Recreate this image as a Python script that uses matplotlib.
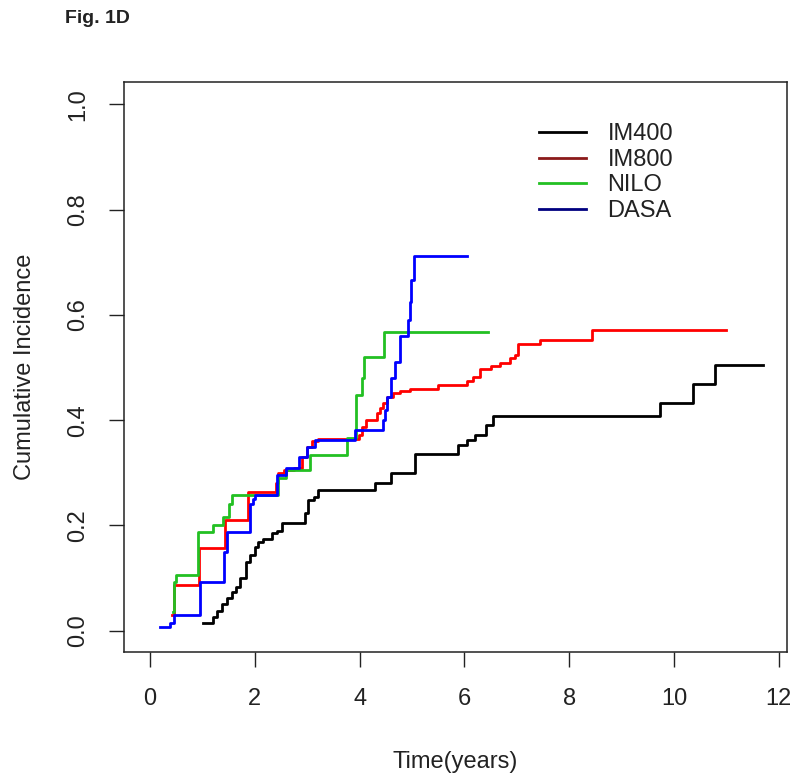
import matplotlib
matplotlib.use('Agg')
import matplotlib.pyplot as plt
from matplotlib.lines import Line2D

plt.rcParams['font.family'] = ['Liberation Sans', 'DejaVu Sans']

# Step curves (time in years, cumulative incidence)
im400_t = [1.02, 1.21, 1.27, 1.37, 1.46, 1.56, 1.65, 1.72, 1.84, 1.91, 2.00, 2.07, 2.16,
           2.32, 2.42, 2.51, 2.96, 3.02, 3.12, 3.21, 4.30, 4.60, 5.06, 5.88, 6.04, 6.20,
           6.42, 6.55, 9.73, 10.37, 10.78, 11.70]
im400_y = [0.014, 0.027, 0.038, 0.051, 0.063, 0.073, 0.083, 0.100, 0.131, 0.144, 0.160,
           0.169, 0.175, 0.185, 0.190, 0.204, 0.223, 0.248, 0.255, 0.267, 0.280, 0.300,
           0.335, 0.353, 0.362, 0.372, 0.391, 0.408, 0.432, 0.469, 0.505, 0.505]

im800_t = [0.42, 0.45, 0.93, 1.43, 1.87, 2.40, 2.45, 2.55, 2.75, 2.90, 3.00, 3.10, 3.20,
           3.98, 4.04, 4.13, 4.33, 4.39, 4.45, 4.52, 4.64, 4.77, 4.96, 5.50, 6.04, 6.17,
           6.30, 6.50, 6.68, 6.87, 6.97, 7.03, 7.44, 8.43, 11.00]
im800_y = [0.030, 0.087, 0.157, 0.210, 0.264, 0.280, 0.300, 0.305, 0.310, 0.330, 0.350,
           0.360, 0.365, 0.372, 0.388, 0.400, 0.413, 0.423, 0.432, 0.445, 0.451, 0.455,
           0.460, 0.467, 0.475, 0.483, 0.497, 0.503, 0.508, 0.518, 0.524, 0.544, 0.553,
           0.571, 0.571]

nilo_t = [0.43, 0.45, 0.50, 0.92, 1.21, 1.40, 1.50, 1.56, 2.45, 2.60, 3.05, 3.75, 3.93,
          4.05, 4.09, 4.47, 6.45]
nilo_y = [0.036, 0.093, 0.106, 0.188, 0.200, 0.217, 0.240, 0.258, 0.290, 0.305, 0.334,
          0.366, 0.448, 0.480, 0.520, 0.568, 0.568]

dasa_t = [0.20, 0.38, 0.46, 0.95, 1.41, 1.47, 1.91, 1.96, 2.00, 2.42, 2.60, 2.85, 3.00,
          3.15, 3.92, 4.45, 4.48, 4.52, 4.60, 4.68, 4.77, 4.93, 4.96, 4.99, 5.04, 6.04]
dasa_y = [0.007, 0.015, 0.030, 0.093, 0.150, 0.188, 0.240, 0.250, 0.258, 0.296, 0.310,
          0.330, 0.350, 0.362, 0.381, 0.400, 0.420, 0.445, 0.480, 0.510, 0.560, 0.590,
          0.625, 0.666, 0.712, 0.712]

groups = ['IM400', 'IM800', 'NILO', 'DASA']
colors = ['#000000', '#ff0000', '#22c022', '#0000ff']
legend_colors = ['#000000', '#8b1a1a', '#22c022', '#000080']

fig = plt.figure(figsize=(8, 7.81), dpi=100)
ax = fig.add_axes([0.1554, 0.1648, 0.828, 0.7298])

series = [(im400_t, im400_y), (im800_t, im800_y), (nilo_t, nilo_y), (dasa_t, dasa_y)]
for (t, y), c in zip(series, colors):
    ax.step(t, y, where='post', color=c, lw=2.0)

ax.set_xlim(-0.49, 12.15)
ax.set_ylim(-0.041, 1.042)
ax.set_xticks([0, 2, 4, 6, 8, 10, 12])
ax.set_yticks([0.0, 0.2, 0.4, 0.6, 0.8, 1.0])
ax.set_yticklabels(['0.0', '0.2', '0.4', '0.6', '0.8', '1.0'])
ax.tick_params(length=10.5, width=1.0, pad=15, labelsize=17, color='#222222',
               labelcolor='#222222')
for lbl in ax.get_yticklabels():
    lbl.set_rotation(90)
    lbl.set_va('center')
for s in ax.spines.values():
    s.set_linewidth(1.1)
    s.set_color('#222222')

ax.set_xlabel('Time(years)', fontsize=17, color='#222222')
ax.set_ylabel('Cumulative Incidence', fontsize=17, color='#222222')
ax.xaxis.set_label_coords(0.5, -0.1925)
ax.xaxis.label.set_va('center')
ax.yaxis.set_label_coords(-0.1500, 0.5)
ax.yaxis.label.set_va('center')

handles = [Line2D([], [], color=c, lw=2.0) for c in legend_colors]
leg = ax.legend(handles, groups, loc='upper left', bbox_to_anchor=(0.626, 0.928),
                frameon=False, fontsize=17, handlelength=2.0, handletextpad=0.9,
                labelspacing=0.15, borderpad=0, borderaxespad=0)
for txt in leg.get_texts():
    txt.set_color('#222222')

fig.text(0.081, 0.9706, 'Fig. 1D', fontsize=14, fontweight='bold', color='#222222')

fig.savefig('out.png', dpi=100)
